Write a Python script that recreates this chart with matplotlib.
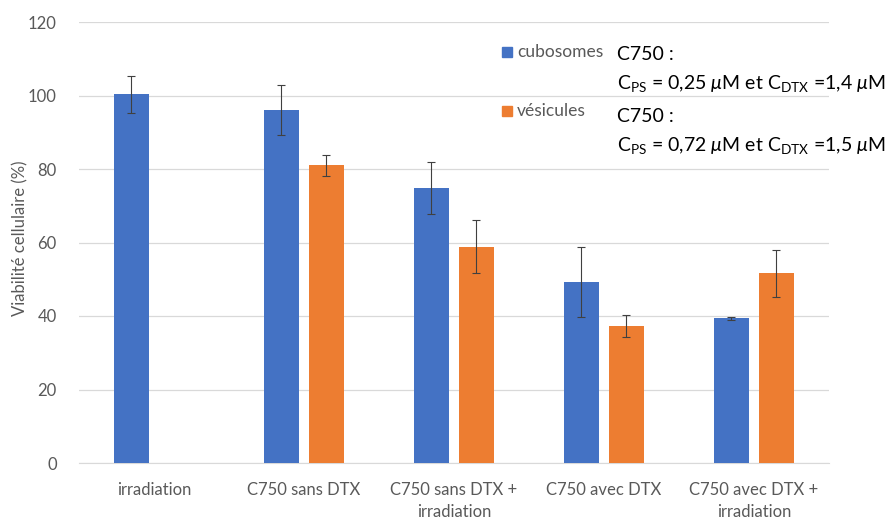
import matplotlib
matplotlib.use('Agg')
import matplotlib.pyplot as plt
import numpy as np

plt.rcParams['font.family'] = ['Lato', 'DejaVu Sans']
plt.rcParams['mathtext.fontset'] = 'custom'
plt.rcParams['mathtext.rm'] = 'Lato'
plt.rcParams['mathtext.it'] = 'Lato:italic'

categories = ['irradiation', 'C750 sans DTX', 'C750 sans DTX +\nirradiation',
              'C750 avec DTX', 'C750 avec DTX +\nirradiation']
cubo = [100.3, 96.1, 74.9, 49.3, 39.4]
cubo_err = [5.0, 6.8, 7.1, 9.5, 0.4]
vesi = [np.nan, 81.0, 58.9, 37.4, 51.6]
vesi_err = [np.nan, 2.9, 7.2, 3.0, 6.4]

BLUE = '#4472C4'
ORANGE = '#ED7D31'
GRAY = '#595959'

fig = plt.figure(figsize=(8.87, 5.2), dpi=100)
ax = fig.add_axes([79/887, 57/520, 750/887, 441/520])

x = np.arange(len(categories))
w = 0.235
ax.bar(x - 0.15, cubo, w, color=BLUE, zorder=3,
       yerr=cubo_err, error_kw=dict(ecolor='#404040', elinewidth=0.8, capsize=3, capthick=0.8))
ax.bar(x + 0.15, vesi, w, color=ORANGE, zorder=3,
       yerr=vesi_err, error_kw=dict(ecolor='#404040', elinewidth=0.8, capsize=3, capthick=0.8))

ax.set_xlim(-0.5, len(categories) - 0.5)
ax.set_ylim(0, 120)
ax.set_yticks(range(0, 121, 20))
ax.yaxis.grid(True, color='#D9D9D9', linewidth=0.9, zorder=0)
ax.set_axisbelow(True)
for s in ['top', 'right', 'left']:
    ax.spines[s].set_visible(False)
ax.spines['bottom'].set_color('#D9D9D9')
ax.tick_params(axis='both', length=0, colors=GRAY, labelsize=12)
ax.tick_params(axis='y', pad=16)
ax.tick_params(axis='x', pad=14)
ax.set_xticks(x)
ax.set_xticklabels(categories, fontsize=12, linespacing=1.4)
ax.set_ylabel('Viabilité cellulaire (%)', color=GRAY, fontsize=12)
ax.yaxis.set_label_coords(-0.067, 0.51)

# legend-like annotations
fig.patches.append(plt.Rectangle((502/887, 1 - 57/520), 10/887, 10/520, color=BLUE, transform=fig.transFigure))
fig.patches.append(plt.Rectangle((502/887, 1 - 116/520), 10/887, 10/520, color=ORANGE, transform=fig.transFigure))
fig.text(517/887, 1 - 52/520, 'cubosomes', color=GRAY, fontsize=12.5, va='center')
fig.text(517/887, 1 - 111/520, 'vésicules', color=GRAY, fontsize=12.5, va='center')

fig.text(617/887, 1 - 54/520, 'C750 :', fontsize=14, va='center')
fig.text(617/887, 1 - 84/520, r'C$_{\mathrm{PS}}$ = 0,25 $\mu$M et C$_{\mathrm{DTX}}$ =1,4 $\mu$M',
         fontsize=14, va='center')
fig.text(617/887, 1 - 116/520, 'C750 :', fontsize=14, va='center')
fig.text(617/887, 1 - 146/520, r'C$_{\mathrm{PS}}$ = 0,72 $\mu$M et C$_{\mathrm{DTX}}$ =1,5 $\mu$M',
         fontsize=14, va='center')

fig.savefig('out.png', dpi=100)
